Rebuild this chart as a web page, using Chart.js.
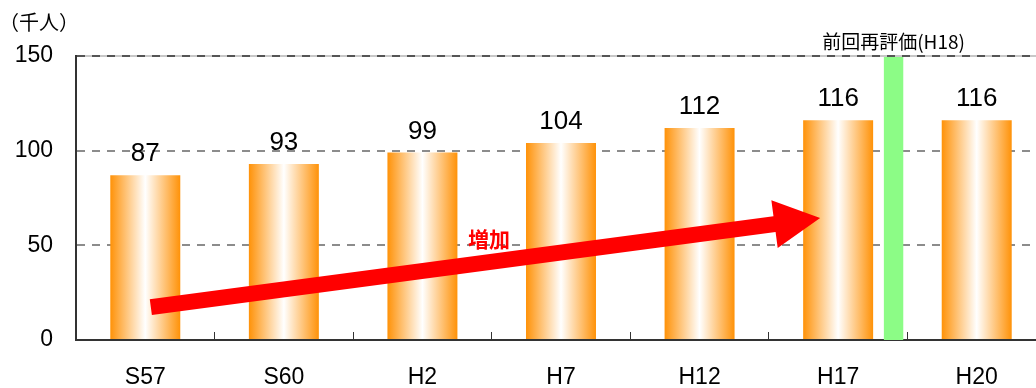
<!DOCTYPE html>
<html>
<head>
<meta charset="utf-8">
<title>人口推移</title>
<script src="https://cdn.jsdelivr.net/npm/chart.js@4/dist/chart.umd.min.js"></script>
<style>
  html, body { margin: 0; padding: 0; overflow: hidden; background: #fff; }
  #wrap { position: relative; width: 1046px; height: 388px; }
</style>
</head>
<body>
<div id="wrap"><canvas id="popChart"></canvas></div>
<script>
// survey years and population (thousand people)
var years = ["S57", "S60", "H2", "H7", "H12", "H17", "H20"];
var population = [87, 93, 99, 104, 112, 116, 116];
var yTicks = [0, 50, 100, 150];

// annotation texts
var unitLabel = "（千人）";
var reviewLabel = "前回再評価(H18)";
var trendLabel = "増加";

// annotation placement, in scale units (category index, value)
var reviewAt = 5.4;
var reviewSpan = 0.14;
var arrowStart = [0.04, 17.4];
var arrowEnd = [4.87, 64.4];
var trendLabelAt = [2.48, 53.2];

var BAR_PCT = 0.505;
var ORANGE = "#ff9208";
var NUM_FONT = "'Liberation Sans', Arial, sans-serif";
var JP_FONT = "'Noto Sans CJK JP', 'Noto Sans', sans-serif";

function barFill(context) {
  var chart = context.chart;
  var xs = chart.scales.x;
  if (!chart.chartArea || !xs || context.dataIndex === undefined) {
    return ORANGE;
  }
  var cx = xs.getPixelForValue(context.dataIndex);
  var half = (xs.width / years.length) * BAR_PCT / 2;
  var g = chart.ctx.createLinearGradient(cx - half, 0, cx + half, 0);
  g.addColorStop(0, ORANGE);
  g.addColorStop(0.5, "#ffffff");
  g.addColorStop(1, ORANGE);
  return g;
}

var decorations = {
  id: "decorations",
  beforeDraw: function (chart) {
    // light frame line under the dashed top grid line
    var a = chart.chartArea, c = chart.ctx;
    var top = chart.scales.y.getPixelForValue(yTicks[yTicks.length - 1]);
    c.save();
    c.strokeStyle = "#c8c8c8";
    c.lineWidth = 2;
    c.beginPath();
    c.moveTo(a.left, top);
    c.lineTo(a.right, top);
    c.stroke();
    c.restore();
  },
  beforeDatasetsDraw: function (chart) {
    var xs = chart.scales.x, ys = chart.scales.y, c = chart.ctx;
    var cx = xs.getPixelForValue(reviewAt);
    var w = (xs.width / years.length) * reviewSpan;
    var top = ys.getPixelForValue(yTicks[yTicks.length - 1]) + 1;
    var bottom = ys.getPixelForValue(0);
    c.save();
    c.fillStyle = "#8cfc86";
    c.fillRect(cx - w / 2, top, w, bottom - top);
    c.restore();
  },
  afterDatasetsDraw: function (chart) {
    var xs = chart.scales.x, ys = chart.scales.y, c = chart.ctx;
    var meta = chart.getDatasetMeta(0);

    c.save();
    // value labels above the bars
    c.fillStyle = "#000";
    c.font = "26px " + NUM_FONT;
    c.textAlign = "center";
    c.textBaseline = "alphabetic";
    meta.data.forEach(function (bar, i) {
      c.fillText(String(population[i]), bar.x, bar.y - 14);
    });

    // unit label at the top left
    c.font = "20px " + JP_FONT;
    c.textBaseline = "middle";
    c.fillText(unitLabel, 39, 22);

    // label over the review band
    c.font = "19px " + JP_FONT;
    c.fillText(reviewLabel, xs.getPixelForValue(reviewAt), 42);

    // trend arrow
    var x0 = xs.getPixelForValue(arrowStart[0]), y0 = ys.getPixelForValue(arrowStart[1]);
    var x1 = xs.getPixelForValue(arrowEnd[0]), y1 = ys.getPixelForValue(arrowEnd[1]);
    var len = Math.hypot(x1 - x0, y1 - y0);
    var sw = 8, hl = 46, hw = 24;
    c.translate(x0, y0);
    c.rotate(Math.atan2(y1 - y0, x1 - x0));
    c.fillStyle = "#ff0000";
    c.beginPath();
    c.moveTo(0, -sw);
    c.lineTo(len - hl, -sw);
    c.lineTo(len - hl, -hw);
    c.lineTo(len, 0);
    c.lineTo(len - hl, hw);
    c.lineTo(len - hl, sw);
    c.lineTo(0, sw);
    c.closePath();
    c.fill();
    c.setTransform(1, 0, 0, 1, 0, 0);

    c.font = "bold 21px " + JP_FONT;
    c.fillText(trendLabel, xs.getPixelForValue(trendLabelAt[0]), ys.getPixelForValue(trendLabelAt[1]));
    c.restore();
  }
};

new Chart(document.getElementById("popChart").getContext("2d"), {
  type: "bar",
  data: {
    labels: years,
    datasets: [
      {
        label: "人口",
        data: population,
        backgroundColor: barFill,
        borderWidth: 0,
        categoryPercentage: 1,
        barPercentage: BAR_PCT,
      },
    ],
  },
  options: {
    responsive: true,
    maintainAspectRatio: false,
    animation: false,
    layout: {
      padding: { top: 56, right: 0, left: 0, bottom: 0 },
    },
    plugins: {
      legend: { display: false },
      tooltip: { enabled: false },
    },
    scales: {
      x: {
        grid: {
          drawOnChartArea: false,
          color: "#333",
          tickLength: -8,
        },
        border: { color: "#333", width: 2 },
        ticks: {
          color: "#000",
          padding: 32,
          font: { family: NUM_FONT, size: 23 },
        },
        afterFit: function (scale) {
          scale.height = 48;
        },
      },
      y: {
        min: 0,
        max: 150,
        afterBuildTicks: function (scale) {
          scale.ticks = yTicks.map(function (v) {
            return { value: v };
          });
        },
        grid: {
          drawTicks: false,
          lineWidth: 2,
          color: function (ctx) {
            if (!ctx.tick || ctx.tick.value === 0) return "rgba(0,0,0,0)";
            return ctx.tick.value === 150 ? "#555" : "#8c8c8c";
          },
        },
        border: { color: "#333", width: 2, dash: [8, 7] },
        ticks: {
          color: "#000",
          padding: 23,
          font: { family: NUM_FONT, size: 23 },
        },
        afterFit: function (scale) {
          scale.width = 76;
        },
      },
    },
  },
  plugins: [decorations],
});
</script>
</body>
</html>
